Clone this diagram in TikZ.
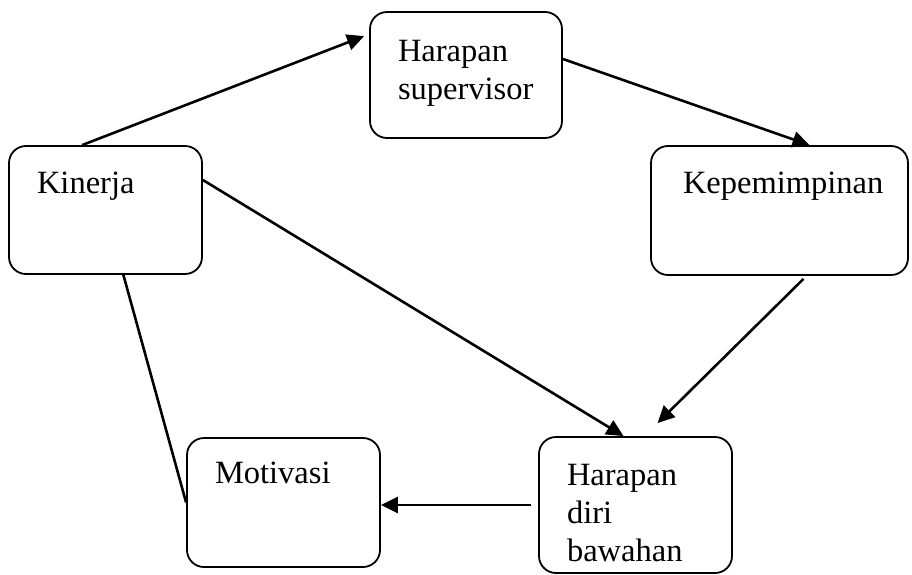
\documentclass[tikz,border=0pt]{standalone}
\usepackage{fontspec}
\setmainfont{Liberation Serif}
\usetikzlibrary{arrows.meta}

\begin{document}
\begin{tikzpicture}[x=1pt,y=-1pt,>={Triangle[length=17pt,width=16pt]}]
  \tikzstyle{kotak}=[draw,line width=1.8pt,rounded corners=17pt,align=left,
    inner xsep=28pt,inner ysep=0pt,text width=137pt,text height=47pt,
    font=\fontsize{32.5}{38}\selectfont]

  \useasboundingbox (0,0) rectangle (912,575);

  \node[kotak,text depth=81pt]                                   (kin) at (105.5,210)   {Kinerja};
  \node[kotak,text width=136pt,text height=50pt,text depth=76pt] (hs)  at (466,75)      {Harapan\\supervisor};
  \node[kotak,inner xsep=32pt,text width=193pt,text depth=82pt]  (kep) at (779.5,210.5) {Kepemimpinan};
  \node[kotak,text height=45pt,text depth=84pt]                  (mot) at (283.5,502.5) {Motivasi};
  \node[kotak,text height=48pt,text depth=88pt]                  (hdb) at (635.5,505)   {Harapan\\diri\\bawahan};

  \path[->,line width=2.6pt]
  ([xshift=74pt]kin.north west) edge ([xshift=-5pt,yshift=-25pt]hs.north west)
  ([yshift=16pt]hs.east)        edge ([xshift=30pt]kep.north)
  ([xshift=24pt,yshift=-3pt]kep.south) edge ([xshift=22pt,yshift=13pt]hdb.north)
  ([yshift=30pt]kin.east)       edge ([xshift=-12pt]hdb.north)
  ([xshift=-7pt]hdb.west)       edge (hdb.west -| mot.east)
  (kin)                         edge[-] (mot.west)
  ;
\end{tikzpicture}
\end{document}
